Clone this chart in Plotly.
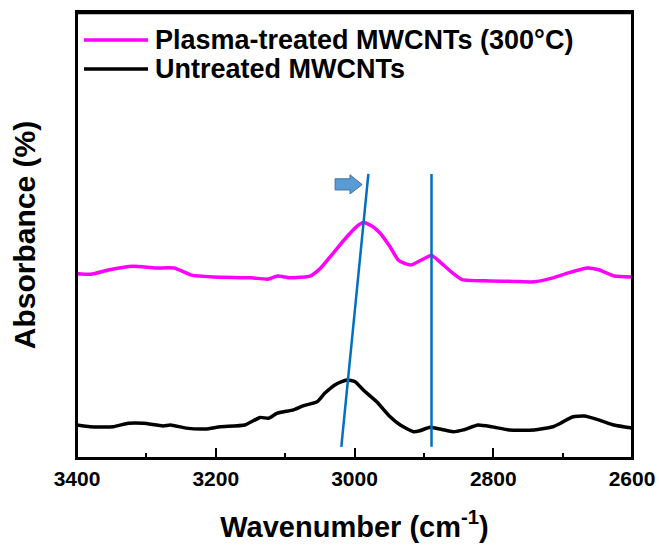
import plotly.graph_objects as go

# Plasma-treated MWCNTs (300°C)
plasma_x = [3400, 3380, 3353, 3320, 3287, 3260, 3235, 3204, 3149, 3125, 3111, 3093, 3064, 3050,
            3031, 3011, 2997, 2987, 2975, 2963, 2949, 2937, 2927, 2918, 2906, 2889, 2872, 2858,
            2845, 2805, 2770, 2741, 2714, 2692, 2664, 2648, 2626, 2600]
plasma_y = [41.3, 41.2, 42.2, 43.0, 42.6, 42.6, 41.0, 40.6, 40.4, 40.1, 40.8, 40.4, 40.8, 42.4,
            45.9, 49.6, 51.9, 52.8, 52.0, 50.4, 47.4, 44.4, 43.6, 43.3, 44.2, 45.4, 43.3, 41.4,
            40.0, 39.7, 39.6, 39.5, 40.4, 41.5, 42.6, 42.2, 40.8, 40.6]

# Untreated MWCNTs
untreated_x = [3400, 3381, 3348, 3326, 3304, 3276, 3265, 3243, 3215, 3193, 3158, 3136, 3124, 3112,
               3088, 3074, 3054, 3043, 3026, 3011, 2999, 2987, 2968, 2949, 2934, 2915, 2906, 2891,
               2874, 2858, 2843, 2822, 2802, 2777, 2741, 2714, 2703, 2686, 2669, 2647, 2626, 2600]
untreated_y = [7.4, 7.0, 7.0, 7.8, 7.8, 7.2, 7.4, 6.7, 6.5, 7.0, 7.4, 9.1, 8.9, 10.0,
               10.8, 11.7, 12.6, 14.5, 16.6, 17.5, 17.1, 15.2, 12.6, 9.3, 7.4, 5.9, 6.1, 6.9,
               6.4, 5.9, 6.3, 7.4, 7.0, 6.3, 6.3, 7.0, 7.8, 9.2, 9.4, 8.5, 7.4, 6.7]

series_names = ["Plasma-treated MWCNTs (300°C)", "Untreated MWCNTs"]
series_colors = ["#FF00FF", "#000000"]

# guide lines (peak shift)
shift_line_x = [2980, 3019]
shift_line_y = [63.7, 2.5]
fixed_line_x = [2889, 2889]
fixed_line_y = [63.7, 2.5]

# block arrow outline (x in cm-1, y in axis units)
arrow_x = [3028, 3006.5, 3006.5, 2989, 3006.5, 3006.5, 3028]
arrow_y = [62.6, 62.6, 63.5, 61.3, 59.2, 60.1, 60.1]

x_ticks = [3400, 3200, 3000, 2800, 2600]

FONT = "Liberation Sans, Arial, sans-serif"

fig = go.Figure()
for xs, ys, nm, col in [(plasma_x, plasma_y, series_names[0], series_colors[0]),
                        (untreated_x, untreated_y, series_names[1], series_colors[1])]:
    fig.add_trace(go.Scatter(x=xs, y=ys, mode="lines", name=nm,
                             line=dict(color=col, width=3.5, shape="spline", smoothing=0.5),
                             showlegend=False))
fig.add_trace(go.Scatter(x=shift_line_x, y=shift_line_y, mode="lines",
                         line=dict(color="#0070C0", width=2.5), showlegend=False, hoverinfo="skip"))
fig.add_trace(go.Scatter(x=fixed_line_x, y=fixed_line_y, mode="lines",
                         line=dict(color="#0070C0", width=2.5), showlegend=False, hoverinfo="skip"))

path = "M " + " L ".join(f"{a},{b}" for a, b in zip(arrow_x, arrow_y)) + " Z"
fig.add_shape(type="path", path=path, xref="x", yref="y",
              fillcolor="#5B9BD5", line=dict(color="#41719C", width=1))

# frame
fig.add_shape(type="rect", xref="paper", yref="paper", x0=0, x1=1, y0=0, y1=1,
              line=dict(color="black", width=2), layer="above")
fig.add_shape(type="line", xref="paper", yref="paper", x0=0, x1=1, y0=0.998, y1=0.998,
              line=dict(color="black", width=2.5), layer="above")

# manual legend
legend_rows = [0.937, 0.872]
for nm, col, yy in zip(series_names, series_colors, legend_rows):
    fig.add_shape(type="line", xref="paper", yref="paper", x0=0.0126, x1=0.128, y0=yy, y1=yy,
                  line=dict(color=col, width=3.5))
    fig.add_annotation(xref="paper", yref="paper", x=0.137, y=yy, xanchor="left", yanchor="middle",
                       text=f"<b>{nm}</b>", showarrow=False,
                       font=dict(size=27, family=FONT, color="black"))

fig.update_layout(
    width=659, height=551,
    margin=dict(l=77, r=27, t=12, b=93),
    paper_bgcolor="white", plot_bgcolor="white",
    font=dict(family=FONT, color="black"),
    showlegend=False,
    xaxis=dict(range=[3400, 2600], tickvals=x_ticks,
               ticktext=[f"<b>{v}</b>" for v in x_ticks],
               ticks="inside", ticklen=10, tickwidth=1.5, tickcolor="black",
               minor=dict(dtick=100, ticks="inside", ticklen=5, tickwidth=1.5, tickcolor="black"),
               showgrid=False, zeroline=False, automargin=False,
               showline=True, linecolor="black", linewidth=2, mirror=True,
               ticklabelstandoff=1,
               tickfont=dict(size=21, family=FONT, color="black"),
               title=dict(text="<b>Wavenumber (cm<sup>-1</sup>)</b>",
                          font=dict(size=29, family=FONT, color="black"), standoff=27)),
    yaxis=dict(range=[0, 100], showticklabels=False, ticks="", showgrid=False, zeroline=False,
               automargin=False,
               showline=True, linecolor="black", linewidth=2, mirror=True,
               title=dict(text="<b>Absorbance (%)</b>",
                          font=dict(size=30, family=FONT, color="black"), standoff=31)),
)

fig.write_html("out.html", config={"displayModeBar": False},
               post_script="document.body.style.margin='0';")
